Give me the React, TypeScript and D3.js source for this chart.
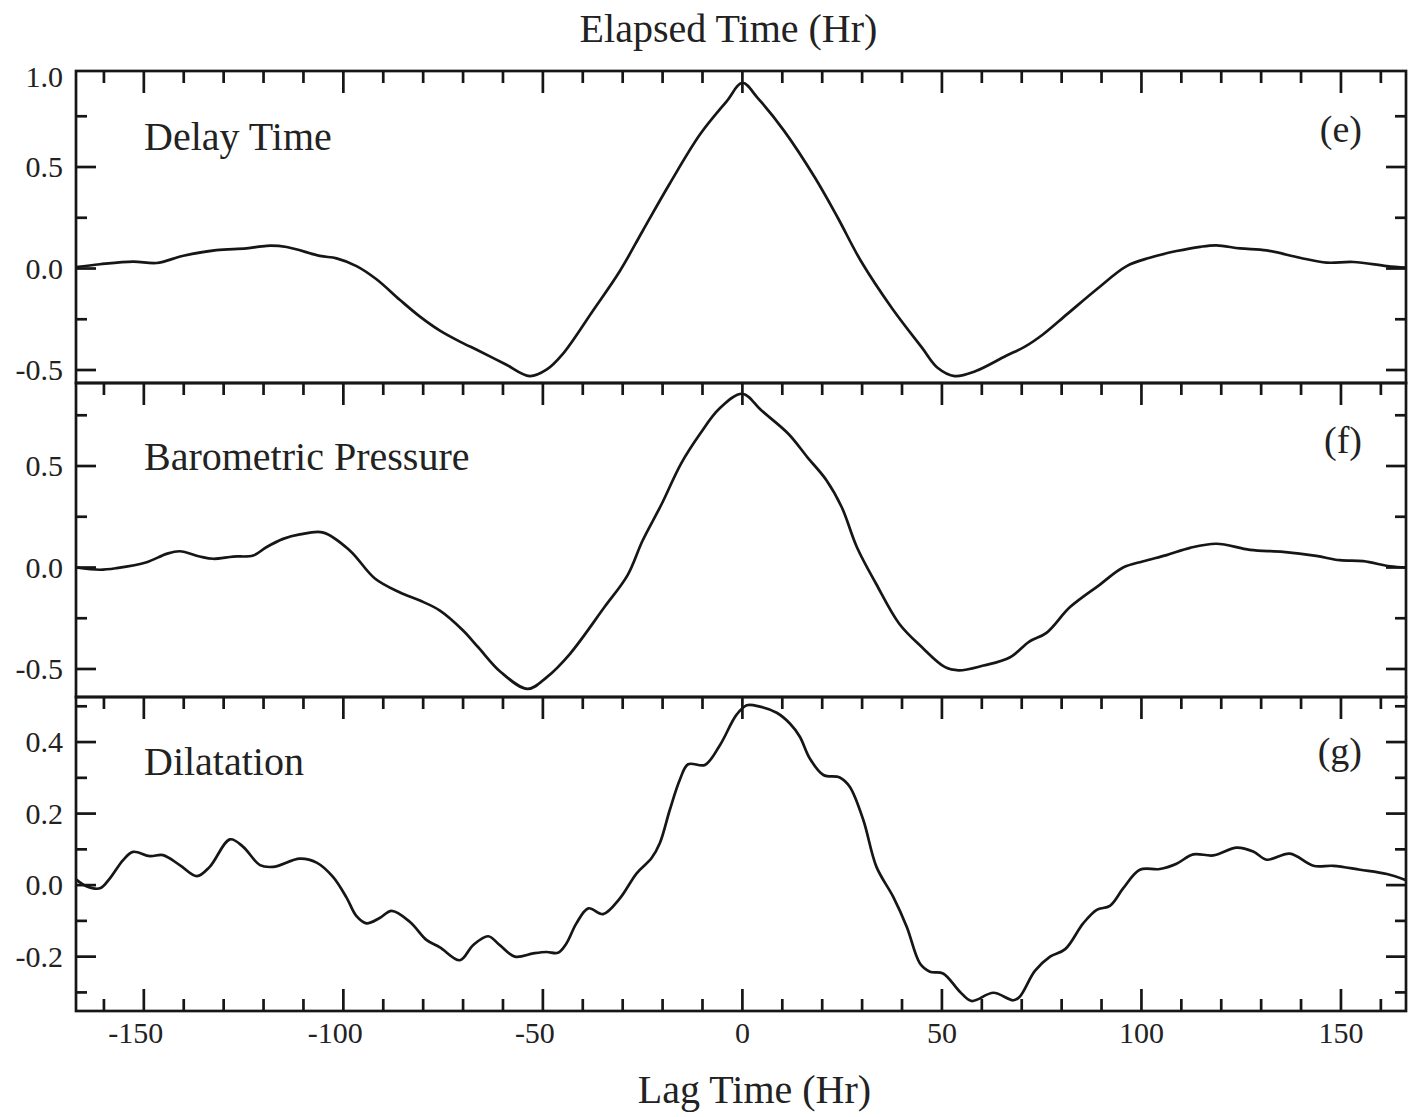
import React from 'react';
import * as d3 from 'd3';

// ---- Data ----
const delayLag = [-167, -161, -152.7, -146.8, -140.1, -131.8, -124.3, -119.2, -114.2, -105.9, -101.7, -96.7, -91.7, -85.8, -80.8, -75.8, -70.8, -66.2, -59.5, -53.3, -49, -45.1, -37.5, -30.7, -25, -18.3, -10.6, -3.9, 0, 3.8, 10.5, 18.2, 23.9, 29.7, 37.4, 45, 48.9, 53.2, 58.5, 66.1, 70.8, 75.3, 81.3, 88.8, 96.3, 102.1, 108.8, 114.7, 118.8, 124.7, 131.4, 139.7, 146.4, 153.1, 161.5, 166.3];
const delayValues = [0.007, 0.021, 0.034, 0.027, 0.063, 0.091, 0.099, 0.112, 0.106, 0.062, 0.05, 0.012, -0.053, -0.155, -0.237, -0.306, -0.36, -0.404, -0.47, -0.53, -0.497, -0.423, -0.209, -0.012, 0.185, 0.415, 0.661, 0.825, 0.915, 0.841, 0.677, 0.447, 0.25, 0.037, -0.193, -0.39, -0.489, -0.53, -0.505, -0.43, -0.385, -0.325, -0.226, -0.102, 0.012, 0.053, 0.086, 0.107, 0.114, 0.099, 0.089, 0.053, 0.029, 0.032, 0.012, 0.004];

const baroLag = [-167, -161, -156.8, -149.3, -144.3, -141, -136, -132.6, -127.6, -122.6, -119.3, -115.1, -110.9, -105, -98.4, -92.1, -85.8, -80.8, -75.8, -70, -66.2, -60.5, -53.8, -49, -43.2, -34.6, -28.8, -25, -20.2, -15.4, -10.6, -5.8, 0, 4.8, 11.5, 16.3, 21.1, 24.9, 28.7, 33.5, 39.3, 45, 50.8, 54.2, 60.4, 67.1, 71.9, 76.2, 82.1, 89.6, 95.4, 100.5, 106.3, 112.2, 118.8, 127.2, 135.5, 143.8, 149.7, 155.6, 162.3, 166.3];
const baroValues = [0.0, -0.011, -0.003, 0.026, 0.067, 0.08, 0.054, 0.043, 0.054, 0.059, 0.1, 0.141, 0.163, 0.172, 0.084, -0.054, -0.123, -0.163, -0.212, -0.31, -0.393, -0.516, -0.598, -0.54, -0.425, -0.196, -0.039, 0.133, 0.314, 0.511, 0.659, 0.782, 0.856, 0.773, 0.659, 0.543, 0.429, 0.297, 0.1, -0.08, -0.277, -0.393, -0.491, -0.507, -0.483, -0.442, -0.365, -0.322, -0.195, -0.084, 0.0, 0.031, 0.061, 0.097, 0.117, 0.087, 0.077, 0.057, 0.036, 0.031, 0.006, 0.0];

const dilLag = [-167, -164.4, -161, -158.5, -155.2, -152.7, -148.5, -145.2, -141, -136.7, -133.5, -128.4, -125.1, -120.9, -117.6, -110.9, -106.7, -102.6, -99.2, -96.7, -94.2, -90.9, -87.9, -83.3, -79.1, -75.8, -70.8, -67.5, -63.7, -60.8, -57, -52.4, -49.1, -46.2, -44.1, -41.6, -38.6, -34.9, -30.7, -26.5, -22.8, -20.7, -18.2, -15.7, -13.6, -9.4, -5.6, -1.5, 1.1, 4.4, 8.6, 11.9, 14.4, 16.9, 20.3, 24.4, 26.9, 30.3, 33.6, 37.8, 41.2, 44.5, 47, 50.3, 54.5, 57.4, 62.9, 67.9, 69.5, 73.3, 77.1, 80.9, 85.4, 88.8, 92.1, 95.5, 99.6, 104.6, 108.8, 113, 118, 123.9, 128, 131.4, 137.2, 143.1, 148.1, 154.8, 161.5, 166.3];
const dilValues = [0.016, -0.003, -0.009, 0.019, 0.07, 0.093, 0.081, 0.084, 0.056, 0.025, 0.051, 0.128, 0.107, 0.056, 0.051, 0.074, 0.063, 0.023, -0.035, -0.087, -0.107, -0.092, -0.072, -0.103, -0.154, -0.174, -0.21, -0.168, -0.143, -0.168, -0.2, -0.191, -0.187, -0.189, -0.163, -0.107, -0.065, -0.081, -0.037, 0.033, 0.075, 0.117, 0.21, 0.294, 0.338, 0.336, 0.392, 0.476, 0.503, 0.499, 0.482, 0.452, 0.415, 0.354, 0.308, 0.301, 0.275, 0.182, 0.051, -0.033, -0.117, -0.219, -0.242, -0.247, -0.298, -0.324, -0.301, -0.322, -0.312, -0.24, -0.2, -0.179, -0.107, -0.069, -0.058, -0.008, 0.043, 0.045, 0.06, 0.086, 0.083, 0.105, 0.094, 0.071, 0.088, 0.054, 0.054, 0.043, 0.031, 0.014];

const panelNames = ['Delay Time', 'Barometric Pressure', 'Dilatation'];
const panelTags = ['(e)', '(f)', '(g)'];
const yLabels1 = [-0.5, 0.0, 0.5, 1.0];
const yLabels2 = [-0.5, 0.0, 0.5];
const yLabels3 = [-0.2, 0.0, 0.2, 0.4];
const xLabels = [-150, -100, -50, 0, 50, 100, 150];
const xTickValues = d3.range(-160, 161, 10);
const titleTop = 'Elapsed Time (Hr)';
const titleBottom = 'Lag Time (Hr)';

const W = 1408;
const H = 1117;
const L = 76;
const R = 1406;
const FONT = '"Liberation Serif", "Times New Roman", Times, serif';
const INK = '#161616';
const TXT = '#222222';
const SW = 2.7;

type Panel = {
  top: number; bottom: number; domain: [number, number];
  lag: number[]; vals: number[]; step: number; majorStep: number;
  labels: number[]; name: string; tag: string; nameY: number; tagY: number;
};

const panels: Panel[] = [
  { top: 71, bottom: 383, domain: [-0.564, 0.973], lag: delayLag, vals: delayValues, step: 0.25, majorStep: 0.5, labels: yLabels1, name: panelNames[0], tag: panelTags[0], nameY: 150, tagY: 142 },
  { top: 383, bottom: 697, domain: [-0.638, 0.909], lag: baroLag, vals: baroValues, step: 0.25, majorStep: 0.5, labels: yLabels2, name: panelNames[1], tag: panelTags[1], nameY: 470, tagY: 453 },
  { top: 697, bottom: 1011, domain: [-0.352, 0.526], lag: dilLag, vals: dilValues, step: 0.1, majorStep: 0.2, labels: yLabels3, name: panelNames[2], tag: panelTags[2], nameY: 775, tagY: 764 },
];

function isMultiple(v: number, m: number) {
  const r = Math.abs(v / m - Math.round(v / m));
  return r < 1e-6;
}

export default function App() {
  const x = d3.scaleLinear().domain([-167, 166.3]).range([L, R]);

  return (
    <svg width={W} height={H} style={{ position: 'absolute', left: 0, top: 0, background: '#fff' }}
      fontFamily={FONT}>
      <rect x={0} y={0} width={W} height={H} fill="#fff" />
      <defs>
        {panels.map((p, i) => (
          <clipPath id={`clip${i}`} key={i}>
            <rect x={L} y={p.top} width={R - L} height={p.bottom - p.top} />
          </clipPath>
        ))}
      </defs>

      <text x={728.5} y={42} textAnchor="middle" fontSize={40} fill={TXT}>{titleTop}</text>

      {panels.map((p, i) => {
        const y = d3.scaleLinear().domain(p.domain).range([p.bottom, p.top]);
        const n = Math.min(p.lag.length, p.vals.length);
        const pts: [number, number][] = d3.range(n).map(k => [p.lag[k], p.vals[k]]);
        const line = d3.line<[number, number]>()
          .x(d => x(d[0]))
          .y(d => y(d[1]))
          .curve(d3.curveCatmullRom.alpha(0.5));
        const kStart = Math.ceil(p.domain[0] / p.step - 1e-9);
        const kEnd = Math.floor(p.domain[1] / p.step + 1e-9);
        const yTicks = d3.range(kStart, kEnd + 1).map(k => +(k * p.step).toFixed(4));
        return (
          <g key={i}>
            <path d={line(pts) || ''} fill="none" stroke={INK} strokeWidth={SW}
              strokeLinejoin="round" strokeLinecap="round" clipPath={`url(#clip${i})`} />
            {xTickValues.map(v => {
              const len = isMultiple(v, 50) ? 22 : 12;
              return <line key={`tx${v}`} x1={x(v)} x2={x(v)} y1={p.top} y2={p.top + len} stroke={INK} strokeWidth={SW} />;
            })}
            {i === panels.length - 1 && xTickValues.map(v => {
              const len = isMultiple(v, 50) ? 22 : 12;
              return <line key={`bx${v}`} x1={x(v)} x2={x(v)} y1={p.bottom} y2={p.bottom - len} stroke={INK} strokeWidth={SW} />;
            })}
            {yTicks.map(v => {
              const len = isMultiple(v, p.majorStep) ? 20 : 11;
              return (
                <g key={`ty${v}`}>
                  <line x1={L} x2={L + len} y1={y(v)} y2={y(v)} stroke={INK} strokeWidth={SW} />
                  <line x1={R} x2={R - len} y1={y(v)} y2={y(v)} stroke={INK} strokeWidth={SW} />
                </g>
              );
            })}
            {p.labels.map(v => (
              <text key={`yl${v}`} x={63} y={Math.max(y(v), p.top + 6) + 10} textAnchor="end"
                fontSize={30} fill={TXT}>{v.toFixed(1)}</text>
            ))}
            <rect x={L} y={p.top} width={R - L} height={p.bottom - p.top} fill="none" stroke={INK} strokeWidth={SW} />
            <text x={144} y={p.nameY} fontSize={40} fill={TXT}>{p.name}</text>
            <text x={1362} y={p.tagY} fontSize={38} fill={TXT} textAnchor="end">{p.tag}</text>
          </g>
        );
      })}

      {xLabels.map(v => (
        <text key={`xl${v}`} x={x(v)} dx={v < 0 ? -8 : 0} y={1043} textAnchor="middle" fontSize={30} fill={TXT}>{String(v)}</text>
      ))}
      <text x={754.5} y={1103} textAnchor="middle" fontSize={40} fill={TXT}>{titleBottom}</text>
    </svg>
  );
}
